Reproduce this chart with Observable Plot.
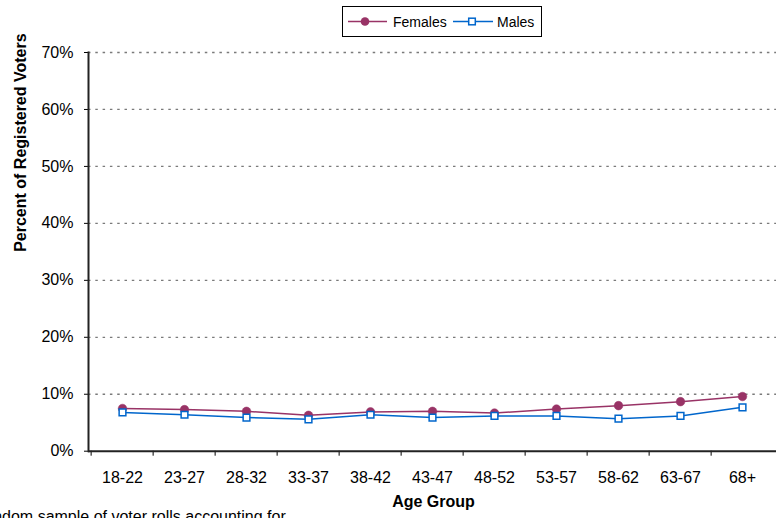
<!DOCTYPE html>
<html>
<head>
<meta charset="utf-8">
<script src="https://cdn.jsdelivr.net/npm/d3@7"></script>
<script src="https://cdn.jsdelivr.net/npm/@observablehq/plot@0.6"></script>
<style>
  html, body { margin: 0; padding: 0; background: #fff; }
  #wrap { position: relative; width: 776px; height: 518px; overflow: hidden; font-family: "Liberation Sans", Arial, sans-serif; background: #fff; }
  #chart { position: absolute; left: 0; top: 0; }
  #legend { position: absolute; left: 342px; top: 6px; width: 198px; height: 29px; border: 1px solid #000; background: #fff; }
  #caption { position: absolute; left: -27.3px; top: 508.5px; font-size: 16px; line-height: 16px; white-space: nowrap; color: #000; }
</style>
</head>
<body>
<div id="wrap">
  <div id="chart"></div>
  <div id="legend"></div>
  <div id="caption"></div>
</div>
<script>
const ageGroups = ["18-22","23-27","28-32","33-37","38-42","43-47","48-52","53-57","58-62","63-67","68+"];
const females = [7.5, 7.3, 7.0, 6.3, 6.9, 7.0, 6.7, 7.4, 8.0, 8.7, 9.6];
const males   = [6.8, 6.4, 5.9, 5.6, 6.4, 5.9, 6.2, 6.2, 5.7, 6.2, 7.7];
const yTicks = [0, 10, 20, 30, 40, 50, 60, 70];
const seriesNames = ["Females", "Males"];
const seriesColors = ["#993366", "#0066CC"];
const xLabel = "Age Group";
const yLabel = "Percent of Registered Voters";
const captionText = "Random sample of voter rolls accounting for";

const rows = ageGroups.map((a, i) => ({age: a, females: females[i], males: males[i]}));
const half = 690 / 11 / 2;

const chart = Plot.plot({
  width: 776,
  height: 518,
  marginTop: 52,
  marginBottom: 67.3,
  marginLeft: 88,
  marginRight: 0,
  style: {fontFamily: "'Liberation Sans', Arial, sans-serif", fontSize: "16px", color: "#000", background: "transparent", overflow: "visible"},
  x: {type: "point", domain: ageGroups, range: [87, 777], padding: 0.5, axis: null},
  y: {domain: [0, 70], axis: null},
  marks: [
    Plot.gridY(yTicks.filter(d => d > 0), {stroke: "#7a7a7a", strokeOpacity: 1, strokeWidth: 1.3, strokeDasharray: "2.5,4.8"}),
    Plot.axisY(yTicks, {tickSize: 4, tickPadding: 11, tickFormat: d => d + "%", label: null, fontSize: 16}),
    Plot.axisX(ageGroups, {tickSize: 5, tickFormat: () => "", dx: -half, label: null}),
    Plot.axisX(ageGroups, {tickSize: 0, tickPadding: 20, label: null, fontSize: 16}),
    Plot.ruleY([0], {stroke: "#222", strokeWidth: 2}),
    Plot.frame({anchor: "left", stroke: "#222", strokeWidth: 2}),
    Plot.line(rows, {x: "age", y: "females", stroke: seriesColors[0], strokeWidth: 1.5}),
    Plot.dot(rows, {x: "age", y: "females", r: 4.3, fill: seriesColors[0], stroke: seriesColors[0], strokeWidth: 0.5}),
    Plot.line(rows, {x: "age", y: "males", stroke: seriesColors[1], strokeWidth: 1.5}),
    Plot.dot(rows, {x: "age", y: "males", symbol: "square", r: 3.8, fill: "#fff", stroke: seriesColors[1], strokeWidth: 1.5}),
    Plot.text([yLabel], {frameAnchor: "left", dx: -68, rotate: -90, fontWeight: "bold", fontSize: 16, fill: "#000"}),
    Plot.text([xLabel], {frameAnchor: "bottom", dy: 55.3, dx: 1, fontWeight: "bold", fontSize: 16, fill: "#000"})
  ]
});
document.getElementById("chart").appendChild(chart);

// Legend
const ns = "http://www.w3.org/2000/svg";
const lg = document.createElementNS(ns, "svg");
lg.setAttribute("width", 198);
lg.setAttribute("height", 29);
const items = [
  {x0: 5, x1: 44, m: 22, tx: 50},
  {x0: 110, x1: 150, m: 129, tx: 154}
];
items.forEach((it, i) => {
  const ln = document.createElementNS(ns, "line");
  ln.setAttribute("x1", it.x0); ln.setAttribute("x2", it.x1);
  ln.setAttribute("y1", 14.5); ln.setAttribute("y2", 14.5);
  ln.setAttribute("stroke", seriesColors[i]); ln.setAttribute("stroke-width", 1.5);
  lg.appendChild(ln);
  if (i === 0) {
    const c = document.createElementNS(ns, "circle");
    c.setAttribute("cx", it.m); c.setAttribute("cy", 14.5); c.setAttribute("r", 4.3);
    c.setAttribute("fill", seriesColors[i]);
    lg.appendChild(c);
  } else {
    const r = document.createElementNS(ns, "rect");
    r.setAttribute("x", it.m - 3.3); r.setAttribute("y", 11.2); r.setAttribute("width", 6.6); r.setAttribute("height", 6.6);
    r.setAttribute("fill", "#fff"); r.setAttribute("stroke", seriesColors[i]); r.setAttribute("stroke-width", 1.5);
    lg.appendChild(r);
  }
  const t = document.createElementNS(ns, "text");
  t.setAttribute("x", it.tx); t.setAttribute("y", 19.5);
  t.setAttribute("font-size", 14); t.setAttribute("font-family", "'Liberation Sans', Arial, sans-serif");
  t.setAttribute("fill", "#000");
  t.textContent = seriesNames[i];
  lg.appendChild(t);
});
document.getElementById("legend").appendChild(lg);
document.getElementById("caption").textContent = captionText;
</script>
</body>
</html>
